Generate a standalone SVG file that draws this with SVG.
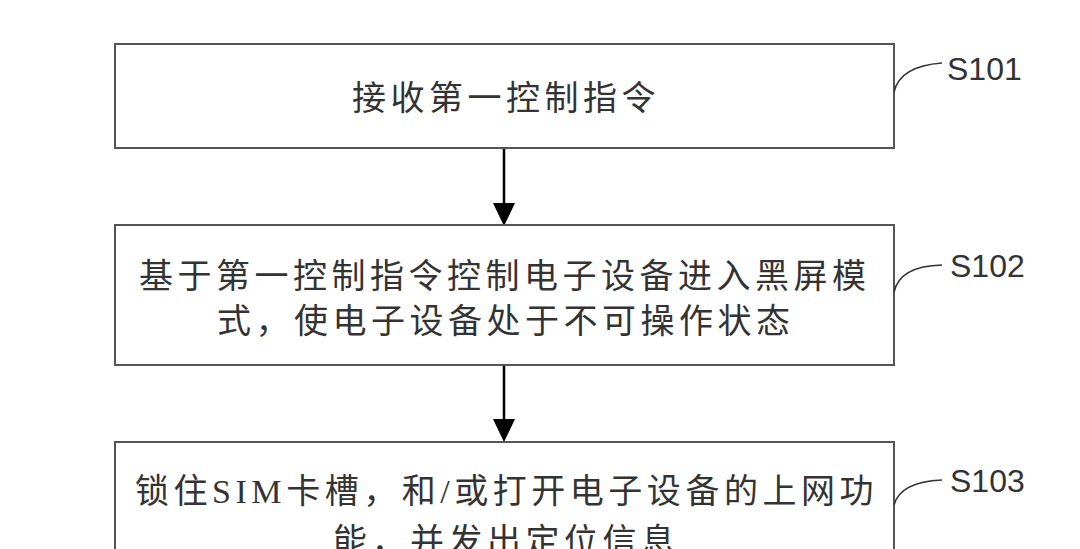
<svg xmlns="http://www.w3.org/2000/svg" width="1080" height="549" viewBox="0 0 1080 549">
<style>
.box{fill:#fff;stroke:#555;stroke-width:2}
.t{font-family:"Noto Sans CJK SC","Noto Sans",sans-serif;font-size:34px;fill:#333;letter-spacing:4.5px}
.lat{font-family:"Liberation Serif",serif}
.lbl{font-family:"Liberation Sans",Arial,sans-serif;font-size:32px;fill:#333}
.lead{fill:none;stroke:#333;stroke-width:1.6}
.arr{stroke:#000;stroke-width:2.5;fill:none}
</style>
<rect width="1080" height="549" fill="#fff"/>
<g id="connectors">
<line class="arr" x1="504" y1="148" x2="504" y2="206"/>
<path d="M493,203 L515,203 L504,226 Z" fill="#000"/>
<line class="arr" x1="504" y1="365" x2="504" y2="422"/>
<path d="M493,419 L515,419 L504,442 Z" fill="#000"/>
</g>
<g id="S101">
<rect class="box" x="115" y="44" width="779" height="104"/>
<text class="t" x="352" y="110">接收第一控制指令</text>
<path class="lead" d="M894,92 Q900,66 942,63"/>
<text class="lbl" x="947" y="80">S101</text>
</g>
<g id="S102">
<rect class="box" x="115" y="225" width="779" height="140"/>
<text class="t" x="139" y="288">基于第一控制指令控制电子设备进入黑屏模</text>
<text class="t" x="217" y="333">式，使电子设备处于不可操作状态</text>
<path class="lead" d="M894,292 Q900,266 942,265"/>
<text class="lbl" x="950" y="277">S102</text>
</g>
<g id="S103">
<rect class="box" x="115" y="442" width="779" height="130"/>
<text class="t" x="135" y="503" textLength="743" lengthAdjust="spacing">锁住<tspan class="lat">SIM</tspan>卡槽，和<tspan class="lat">/</tspan>或打开电子设备的上网功</text>
<text class="t" x="333" y="553">能，并发出定位信息</text>
<path class="lead" d="M894,505 Q900,482 942,480"/>
<text class="lbl" x="950" y="492">S103</text>
</g>
</svg>
